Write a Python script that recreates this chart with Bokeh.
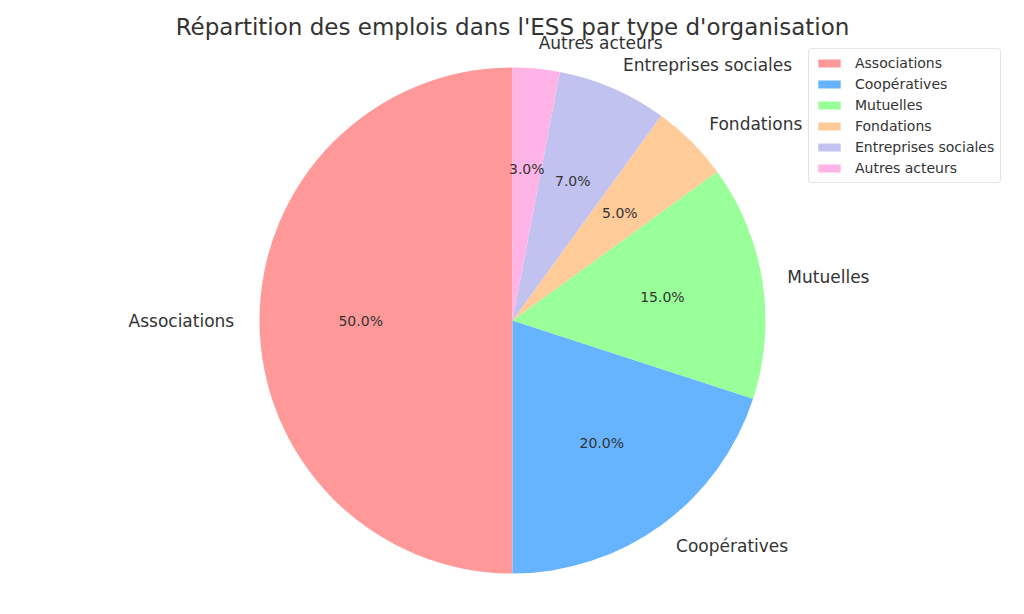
import math
from bokeh.plotting import figure
from bokeh.models import Range1d, Legend, LegendItem, Label, ColumnDataSource
from bokeh.core.properties import value
from bokeh.embed import file_html
from bokeh.resources import INLINE

categories = ["Associations", "Coopératives", "Mutuelles", "Fondations",
              "Entreprises sociales", "Autres acteurs"]
shares = [50, 20, 15, 5, 7, 3]
colors = ["#ff9999", "#66b3ff", "#99ff99", "#ffcc99", "#c2c2f0", "#ffb3e6"]
title_text = "Répartition des emplois dans l'ESS par type d'organisation"

W, H = 1024, 614
cx_px, cy_px, r_px = 512, 320, 253
FONT = "DejaVu Sans"
TXT = "#333333"

total = float(sum(shares))
starts, ends, mids = [], [], []
a = math.pi / 2
for s in shares:
    da = 2 * math.pi * s / total
    starts.append(a)
    ends.append(a + da)
    mids.append(a + da / 2)
    a += da

p = figure(width=W, height=H, output_backend="svg", toolbar_location=None,
           min_border=0, x_axis_type=None, y_axis_type=None)
p.x_range = Range1d(-cx_px / r_px, (W - cx_px) / r_px)
p.y_range = Range1d(-(H - cy_px) / r_px, cy_px / r_px)
p.outline_line_color = None
p.grid.visible = False
p.background_fill_color = "white"

src = ColumnDataSource(dict(start=starts, end=ends, color=colors, label=categories))
r = p.wedge(x=0, y=0, radius=1, start_angle="start", end_angle="end",
            fill_color="color", line_color=None, source=src)

# outer labels
lx = [1.1 * math.cos(m) for m in mids]
ly = [1.1 * math.sin(m) for m in mids]
left_idx = [i for i in range(len(mids)) if math.cos(mids[i]) < 0]
right_idx = [i for i in range(len(mids)) if math.cos(mids[i]) >= 0]
p.text(x=[lx[i] for i in left_idx], y=[ly[i] for i in left_idx],
       text=[categories[i] for i in left_idx], text_align="right",
       text_baseline="middle", text_font=value(FONT), text_font_size="17px",
       text_color=TXT)
p.text(x=[lx[i] for i in right_idx], y=[ly[i] for i in right_idx],
       text=[categories[i] for i in right_idx], text_align="left",
       text_baseline="middle", text_font=value(FONT), text_font_size="17px",
       text_color=TXT)

# percentages
px_ = [0.6 * math.cos(m) for m in mids]
py_ = [0.6 * math.sin(m) for m in mids]
pct = ["%.1f%%" % (100 * s / total) for s in shares]
p.text(x=px_, y=py_, text=pct, text_align="center", text_baseline="middle",
       text_font=value(FONT), text_font_size="14px", text_color=TXT)

# title
p.add_layout(Label(x=W / 2, y=H - 26, x_units="screen", y_units="screen",
                   text=title_text, text_align="center", text_baseline="middle",
                   text_font=FONT, text_font_size="23px", text_color=TXT))

items = [LegendItem(label=categories[i], renderers=[r], index=i)
         for i in range(len(categories))]
legend = Legend(items=items, location=(808, H - 183))
legend.label_text_font = FONT
legend.label_text_font_size = "14px"
legend.label_text_color = TXT
legend.glyph_width = 28
legend.glyph_height = 10
legend.label_height = 12
legend.spacing = 5
legend.padding = 6
legend.label_standoff = 12
legend.border_line_color = "#cccccc"
legend.border_line_width = 1
legend.background_fill_alpha = 0.8
if hasattr(legend, "border_radius"):
    legend.border_radius = 4
p.add_layout(legend, "center")

open("out.html", "w").write(file_html(p, INLINE))
